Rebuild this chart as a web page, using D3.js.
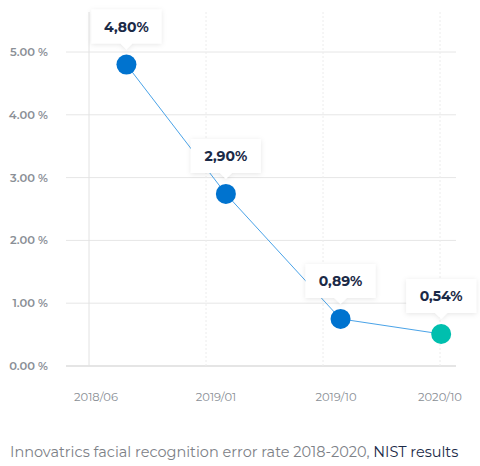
<!DOCTYPE html>
<html><head><meta charset="utf-8">
<script src="https://cdn.jsdelivr.net/npm/d3@7"></script>
<style>body{margin:0;background:#fff}svg{display:block}</style>
</head><body>
<svg id="c" width="480" height="466"></svg>
<script>
const categories=["2018/06","2019/01","2019/10","2020/10"];
const pointPos=[0.32,1.17,2.15,3.01];
const values=[4.80,2.74,0.75,0.51];
const labels=["4,80%","2,90%","0,89%","0,54%"];
const yTicks=[0,1,2,3,4,5];
const colors=["#0073cf","#0073cf","#0073cf","#00bfae"];

const svg=d3.select("#c");
const defs=svg.append("defs");
const f=defs.append("filter").attr("id","sh").attr("x","-30%").attr("y","-30%").attr("width","160%").attr("height","180%");
f.append("feDropShadow").attr("dx",0).attr("dy",1).attr("stdDeviation",2.5).attr("flood-color","#000").attr("flood-opacity",0.10);

const x=d3.scaleLinear().domain([0,3]).range([89,440]);
const y=d3.scaleLinear().domain([0,5]).range([366,52]);
const font="Montserrat, 'Open Sans', sans-serif";

svg.append("g").selectAll("line").data(yTicks).join("line")
 .attr("x1",66).attr("x2",456).attr("y1",d=>y(d)).attr("y2",d=>y(d))
 .attr("stroke",d=>d===0?"#dcdcdc":"#e6e6e6").attr("stroke-width",d=>d===0?1.5:1);
svg.append("g").selectAll("line").data(categories).join("line")
 .attr("x1",(d,i)=>x(i)).attr("x2",(d,i)=>x(i)).attr("y1",12).attr("y2",366)
 .attr("stroke",(d,i)=>i===0?"#e2e2e2":"#ececec").attr("stroke-dasharray",(d,i)=>i===0?null:"2,2");
svg.append("g").selectAll("text").data(yTicks).join("text")
 .attr("x",48).attr("y",d=>y(d)+4).attr("text-anchor","end")
 .attr("font-family",font).attr("font-weight",600).attr("font-size",11.5).attr("fill","#8a8f96")
 .text(d=>d.toFixed(2)+" %");
svg.append("g").selectAll("text").data(categories).join("text")
 .attr("x",(d,i)=>x(i)+[7,10,13,0][i]).attr("y",401).attr("text-anchor","middle")
 .attr("font-family",font).attr("font-size",11.5).attr("fill","#8a8f96").text(d=>d);

const pts=values.map((v,i)=>[x(pointPos[i]),y(v)]);
svg.append("path").attr("d",d3.line()(pts)).attr("fill","none").attr("stroke","#4aa3e8").attr("stroke-width",1);
svg.append("g").selectAll("circle").data(pts).join("circle")
 .attr("cx",d=>d[0]).attr("cy",d=>d[1]).attr("r",10).attr("fill",(d,i)=>colors[i]);

const tip=svg.append("g").selectAll("g").data(pts).join("g")
 .attr("transform",d=>`translate(${d[0]},${d[1]-21})`);
tip.append("path").attr("d","M-35,-34 H35 V0 H6 L0,6 L-6,0 H-35 Z").attr("fill","#fff").attr("filter","url(#sh)");
tip.append("text").attr("y",-12).attr("text-anchor","middle").attr("font-family",font)
 .attr("font-weight",700).attr("font-size",14).attr("fill","#1b2a47").text((d,i)=>labels[i]);

const cap=svg.append("text").attr("x",10).attr("y",457).attr("font-family",font).attr("font-size",14.5).attr("fill","#7d8187");
cap.append("tspan").text("Innovatrics facial recognition error rate 2018-2020, ");
cap.append("tspan").attr("fill","#1b2a47").text("NIST results");
</script></body></html>
